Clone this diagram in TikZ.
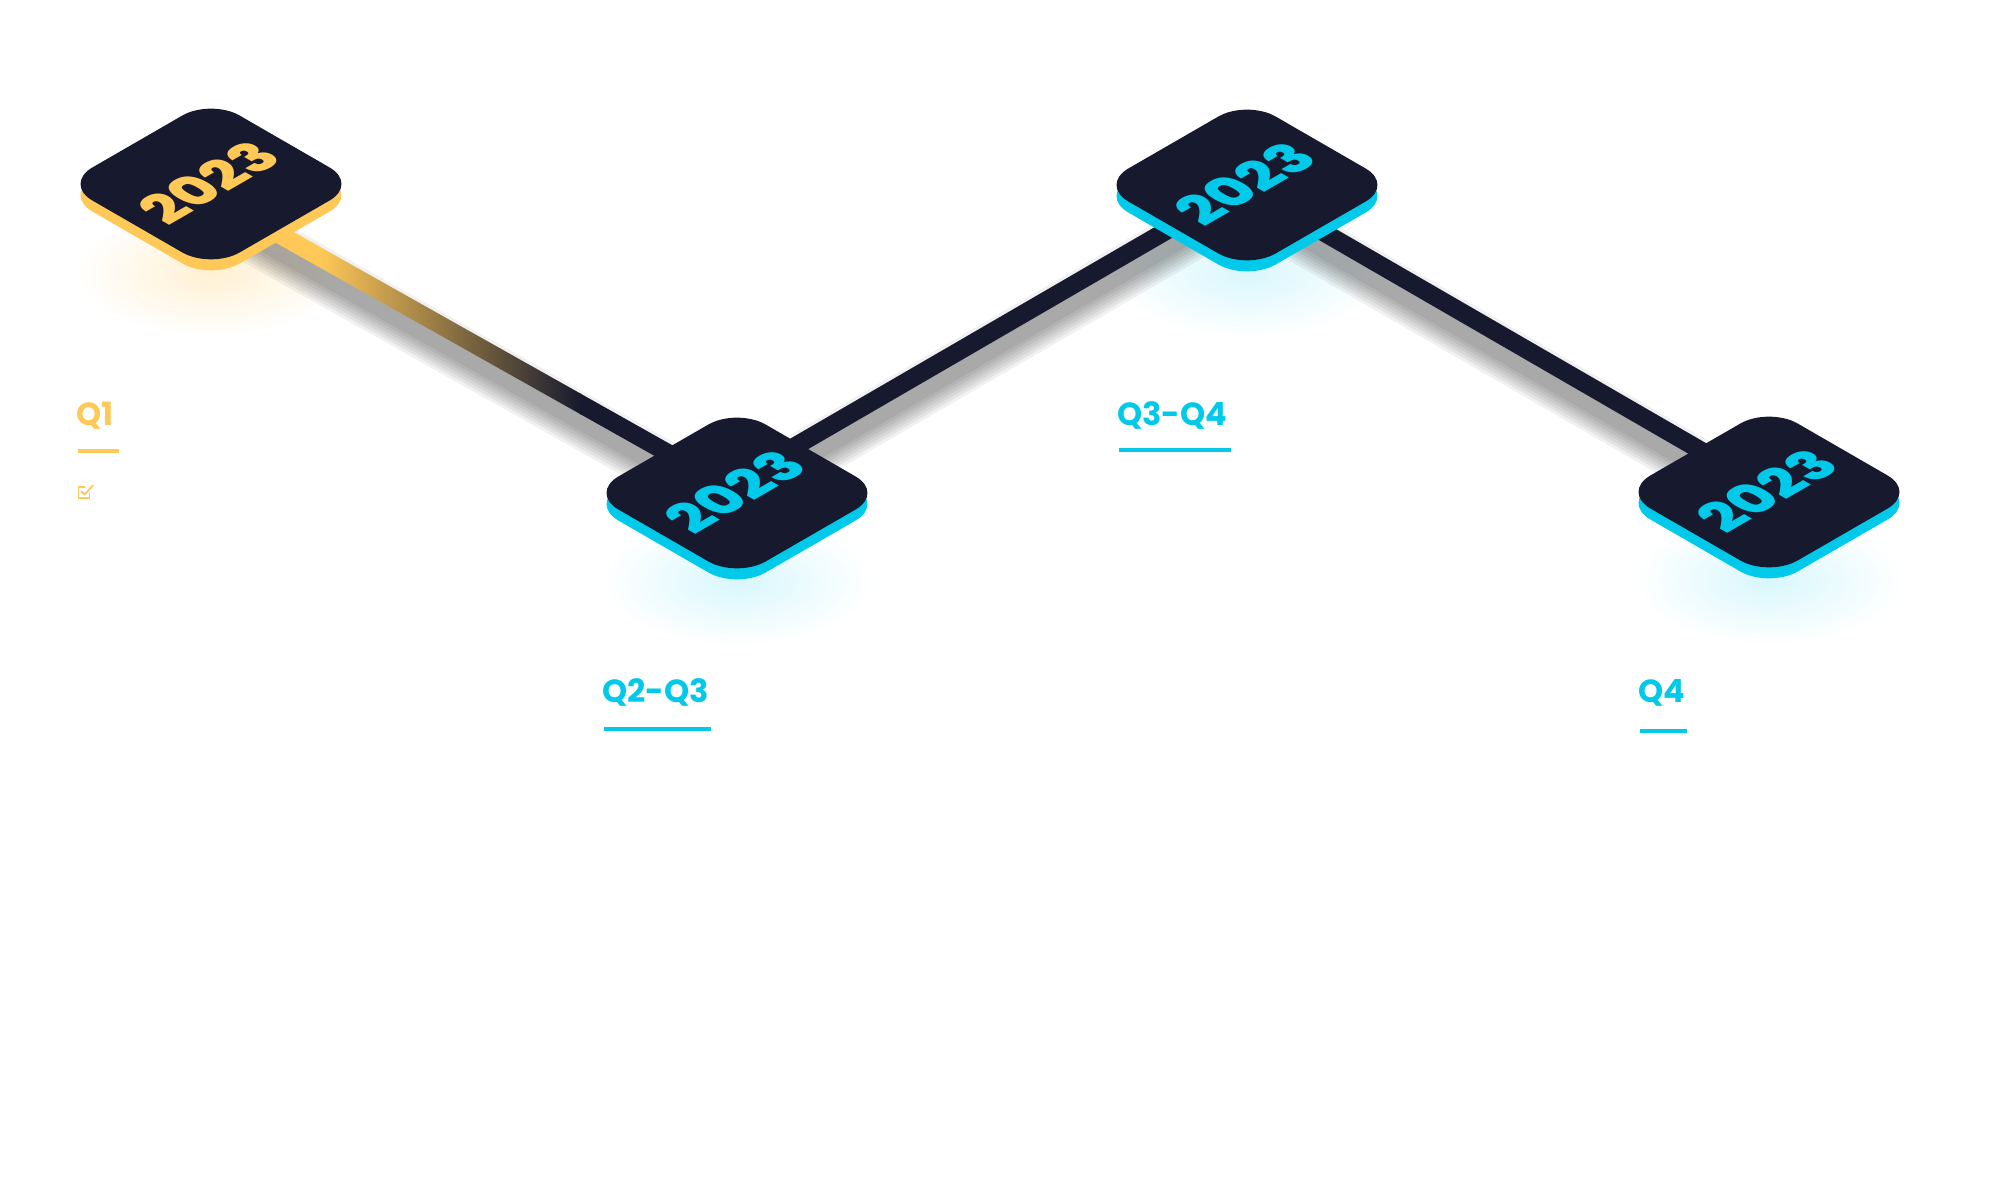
\documentclass[tikz,border=0pt]{standalone}
\usepackage{fontspec}
\usetikzlibrary{calc}
\newfontfamily\popsb{Poppins Bold}
\newfontfamily\popb{Poppins ExtraBold}
\definecolor{navy}{HTML}{171A2E}
\definecolor{accy}{HTML}{FFC857}
\definecolor{accc}{HTML}{00C9EA}
\definecolor{glowc}{HTML}{D8F7FD}
\definecolor{glowy}{HTML}{FFF0D2}
\newcommand{\tilepath}{(-52,-85) -- (52,-85) arc[start angle=-90,end angle=0,radius=33] -- (85,52) arc[start angle=0,end angle=90,radius=33] -- (-52,85) arc[start angle=90,end angle=180,radius=33] -- (-85,-52) arc[start angle=180,end angle=270,radius=33] -- cycle}
\newcommand{\isotile}[3]{%
  \begin{scope}[shift={(#2)}]
    \begin{scope}[cm={0.866,0.5,-0.866,0.5,(0,-11)}]
      \fill[#3] \tilepath;
    \end{scope}
    \begin{scope}[cm={0.866,0.5,-0.866,0.5,(0,0)}]
      \fill[navy] \tilepath;
      \node[transform shape, text=#3, inner sep=0pt, font=\popb\fontsize{56}{56}\selectfont] (#1) at (0,3) {2023};
    \end{scope}
  \end{scope}}
\tikzset{
  lbl/.style={inner sep=0pt, anchor=base west, font=\popsb\fontsize{32}{32}\selectfont},
  uline/.style={line width=4pt},
  linkline/.style={navy, line width=18pt},
}
\begin{document}
\begin{tikzpicture}[x=1pt,y=1pt]
\useasboundingbox[fill=white] (0,0) rectangle (2000,1200);
% tile centres
\coordinate (t1) at (211,1016);
\coordinate (t2) at (737,707);
\coordinate (t3) at (1247,1015);
\coordinate (t4) at (1769,708);
% connector anchors
\coordinate (a1) at (211,1004);
\coordinate (a2) at (737,708);
\coordinate (b2) at (737,720);
\coordinate (b3) at (1247,1016);
\coordinate (c3) at (1247,1012);
\coordinate (c4) at (1769,710);
% glows
\foreach \p/\c in {t1/glowy, t2/glowc, t3/glowc, t4/glowc}
  \shade[inner color=\c, outer color=white] ([yshift=-88pt]\p) ellipse [x radius=135, y radius=65];
% shadows of connectors
\foreach \A/\B in {a1/a2, b2/b3, c3/c4}
  \foreach \k in {0,...,6}
    \draw[black, opacity=0.055, line width={(18+6*\k)*1pt}] ([yshift=-17pt]\A) -- ([yshift=-17pt]\B);
% connector 1-2 with gradient
\begin{scope}
  \clip ($(a1)!9pt!90:(a2)$) -- ($(a2)!9pt!-90:(a1)$) -- ($(a2)!9pt!90:(a1)$) -- ($(a1)!9pt!-90:(a2)$) -- cycle;
  \fill[accy] (150,600) rectangle (321,1100);
  \shade[left color=accy, right color=navy] (320,600) rectangle (581,1100);
  \fill[navy] (580,600) rectangle (800,1100);
\end{scope}
\draw[linkline] (b2) -- (b3);
\draw[linkline] (c3) -- (c4);
% tiles
\isotile{tile1}{t1}{accy}
\isotile{tile2}{t2}{accc}
\isotile{tile3}{t3}{accc}
\isotile{tile4}{t4}{accc}
% labels
\node[lbl, text=accy] (q1) at (76,774) {Q1};
\node[lbl, text=accc] (q23) at (602,497) {Q2-Q3};
\node[lbl, text=accc] (q34) at (1117,774) {Q3-Q4};
\node[lbl, text=accc] (q4) at (1638,497) {Q4};
\draw[uline, accy] (78,749) -- (119,749);
\draw[uline, accc] (604,471) -- (711,471);
\draw[uline, accc] (1119,750) -- (1231,750);
\draw[uline, accc] (1640,469) -- (1687,469);
% check icon
\draw[accy, line width=1.8pt, line cap=round, line join=round] (85,713) -- (78.5,713) -- (78.5,702) -- (89.5,702) -- (89.5,707);
\draw[accy, line width=1.8pt, line cap=round, line join=round] (81.5,708.5) -- (84.5,705.5) -- (93,714.5);
\end{tikzpicture}
\end{document}
